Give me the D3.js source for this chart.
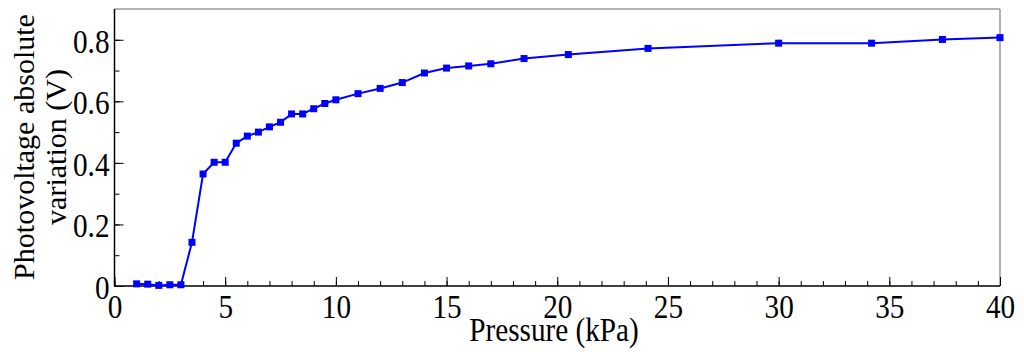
<!DOCTYPE html>
<html>
<head>
<meta charset="utf-8">
<script src="https://cdn.jsdelivr.net/npm/d3@7"></script>
<style>
  body { margin: 0; background: #fff; }
  svg text { font-family: "Liberation Serif", "Times New Roman", serif; fill: #000; }
</style>
</head>
<body>
<div id="chart"></div>
<script>

    // data
    var pressure = [1, 1.5, 2, 2.5, 3, 3.5, 4, 4.5, 5, 5.5, 6, 6.5, 7, 7.5, 8, 8.5, 9, 9.5, 10,
                    11, 12, 13, 14, 15, 16, 17, 18.5, 20.5, 24.1, 30, 34.2, 37.4, 40];
    var voltage  = [0.007, 0.006, 0.002, 0.004, 0.004, 0.142, 0.364, 0.402, 0.402, 0.464, 0.487, 0.500,
                    0.517, 0.532, 0.559, 0.559, 0.576, 0.593, 0.605, 0.625, 0.642, 0.661, 0.692, 0.708,
                    0.715, 0.722, 0.739, 0.752, 0.772, 0.789, 0.789, 0.801, 0.807];

    var xTicks = [0, 5, 10, 15, 20, 25, 30, 35, 40];
    var yTicks = [0, 0.2, 0.4, 0.6, 0.8];
    var xLabel = "Pressure (kPa)";
    var yLabel = ["Photovoltage absolute", "variation (V)"];

    var w = 1024, h = 352;
    var margin = {left: 114.5, right: 24, top: 9, bottom: 66};
    var lineColor = "#0000ff";
    var markerSize = 7;
    var fontSize = 34;
    var squeeze = 0.86;   // the original text is narrow and tall

    var svg = d3.select("#chart").append("svg").attr("width", w).attr("height", h);

    var x = d3.scaleLinear().domain([0, 40]).range([margin.left, w - margin.right]);
    var y = d3.scaleLinear().domain([0, 0.9]).range([h - margin.bottom, margin.top]);

    var data = pressure.map((p, i) => ({p: p, v: voltage[i]}));

    // frame: top/right grey, left/bottom black
    svg.append("line").attr("x1", x(0)).attr("x2", x(40)).attr("y1", y(0.9)).attr("y2", y(0.9))
       .style("stroke", "#999").style("stroke-width", 1.5);
    svg.append("line").attr("x1", x(40)).attr("x2", x(40)).attr("y1", y(0.9)).attr("y2", y(0))
       .style("stroke", "#999").style("stroke-width", 1.5);

    // x axis, ticks inward
    var xMinor = d3.range(0, 41, 1);
    svg.append("g").attr("transform", "translate(0," + y(0) + ")")
       .call(d3.axisTop(x).tickValues(xMinor).tickSize(5).tickFormat(""))
       .call(g => g.select(".domain").remove())
       .selectAll("line").style("stroke", "#000");
    var gx = svg.append("g").attr("transform", "translate(0," + y(0) + ")")
       .call(d3.axisTop(x).tickValues(xTicks).tickSize(9).tickFormat(d3.format("d")));
    gx.select(".domain").attr("d", "M" + x(0) + ",0H" + x(40)).style("stroke", "#000").style("stroke-width", 1.5);
    gx.selectAll(".tick line").style("stroke", "#000");
    gx.selectAll(".tick text").attr("y", 32).attr("dy", null)
      .attr("transform", "scale(" + squeeze + ",1)").style("font-size", fontSize + "px");

    // y axis, ticks inward
    var yMinor = d3.range(0, 0.85, 0.1);
    svg.append("g").attr("transform", "translate(" + x(0) + ",0)")
       .call(d3.axisRight(y).tickValues(yMinor).tickSize(5).tickFormat(""))
       .call(g => g.select(".domain").remove())
       .selectAll("line").style("stroke", "#000");
    var gy = svg.append("g").attr("transform", "translate(" + x(0) + ",0)")
       .call(d3.axisRight(y).tickValues(yTicks).tickSize(9).tickFormat(d => d === 0 ? "0" : d3.format(".1f")(d)));
    gy.select(".domain").attr("d", "M0," + y(0) + "V" + y(0.9)).style("stroke", "#000").style("stroke-width", 1.5);
    gy.selectAll(".tick line").style("stroke", "#000");
    gy.selectAll(".tick text").attr("x", -5 / squeeze).attr("dy", "0.36em").attr("text-anchor", "end")
      .attr("transform", "scale(" + squeeze + ",1)").style("font-size", fontSize + "px");

    // line + square markers
    svg.append("path").datum(data)
       .attr("d", d3.line().x(d => x(d.p)).y(d => y(d.v)))
       .style("fill", "none").style("stroke", lineColor).style("stroke-width", 2);

    svg.selectAll(".marker").data(data).enter().append("rect")
       .attr("class", "marker")
       .attr("x", d => x(d.p) - markerSize / 2)
       .attr("y", d => y(d.v) - markerSize / 2)
       .attr("width", markerSize).attr("height", markerSize)
       .style("fill", lineColor);

    // axis titles
    svg.append("text").attr("transform", "translate(554,341) scale(" + squeeze + ",1)")
       .attr("text-anchor", "middle").style("font-size", fontSize + "px").text(xLabel);

    svg.append("text").attr("transform", "translate(0,147) rotate(-90)")
       .attr("text-anchor", "middle").style("font-size", "30px")
       .selectAll("tspan").data(yLabel).enter().append("tspan")
       .attr("x", 0).attr("y", (d, i) => 34 + i * 32).text(d => d);

</script>
</body>
</html>
